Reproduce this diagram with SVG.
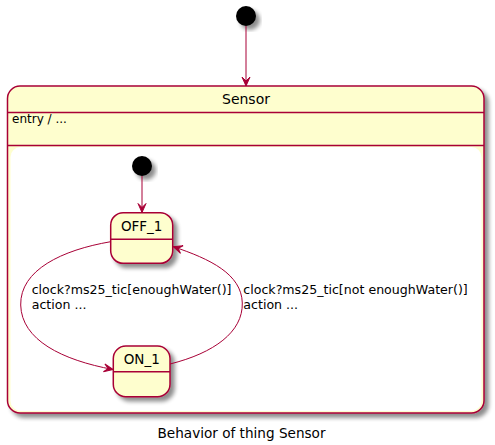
<svg xmlns="http://www.w3.org/2000/svg" width="495" height="445" viewBox="0 0 495 445">
<style>
.st{fill:#FEFECE;stroke:#A80036;stroke-width:1.5}
.ln{stroke:#A80036;stroke-width:1.5;fill:none}
.e{fill:none;stroke:#A80036;stroke-width:1}
.t{font-family:"DejaVu Sans",sans-serif;fill:#000}
.lb{font-size:12.6px}
</style>
<defs>
<filter id="sh" x="-20%" y="-20%" width="150%" height="150%">
<feGaussianBlur in="SourceAlpha" stdDeviation="2" result="b"/>
<feOffset dx="4" dy="4" in="b" result="o"/>
<feComponentTransfer in="o" result="o2"><feFuncA type="linear" slope="0.45"/></feComponentTransfer>
<feMerge><feMergeNode in="o2"/><feMergeNode in="SourceGraphic"/></feMerge>
</filter>
<marker id="ah" viewBox="-10 -5 11 10" refX="0" refY="0" markerWidth="11" markerHeight="10" markerUnits="userSpaceOnUse" orient="auto">
<path d="M0,0 L-9,-4 L-5,0 L-9,4 Z" fill="#A80036" stroke="#A80036" stroke-width="1"/>
</marker>
</defs>
<g id="init-top"><circle cx="246" cy="16" r="10" fill="#000" filter="url(#sh)"/></g>
<g id="sensor">
<rect class="st" x="7.5" y="86" width="476.5" height="327" rx="12.5" filter="url(#sh)"/>
<rect x="10.5" y="147" width="471" height="264" rx="10" fill="#FFFFFF"/>
<line class="ln" x1="7.5" y1="112.5" x2="484" y2="112.5"/>
<line class="ln" x1="7.5" y1="145.5" x2="484" y2="145.5"/>
<text class="t" x="246" y="104" font-size="14" text-anchor="middle">Sensor</text>
<text class="t" x="12" y="123" font-size="12">entry / ...</text>
</g>
<g id="init-inner"><circle cx="142" cy="166" r="10" fill="#000" filter="url(#sh)"/></g>
<g id="off1">
<rect class="st" x="110.7" y="212.7" width="62" height="50.6" rx="12.5" filter="url(#sh)"/>
<line class="ln" x1="110.7" y1="239.3" x2="172.7" y2="239.3"/>
<text class="t" x="141.7" y="231" font-size="13.5" text-anchor="middle">OFF_1</text>
</g>
<g id="on1">
<rect class="st" x="113.3" y="346" width="56.7" height="50.7" rx="12.5" filter="url(#sh)"/>
<line class="ln" x1="113.3" y1="371.7" x2="170" y2="371.7"/>
<text class="t" x="141.7" y="364" font-size="13.5" text-anchor="middle">ON_1</text>
</g>
<g id="connectors">
<path class="e" d="M246,26 L246,86" marker-end="url(#ah)"/>
<path class="e" d="M142,176 L142,212.5" marker-end="url(#ah)"/>
<path class="e" d="M110.7,241.7 C62,250 20,270 20.7,305 C21.5,340 62,360 113,369.5" marker-end="url(#ah)"/>
<path class="e" d="M170,364 C214,353 243,332 242.3,303 C241.6,274 210,259 173.3,246.7" marker-end="url(#ah)"/>
<text class="t lb" x="31.7" y="294">clock?ms25_tic[enoughWater()]</text>
<text class="t lb" x="31.7" y="308.7">action ...</text>
<text class="t lb" x="243.3" y="294">clock?ms25_tic[not enoughWater()]</text>
<text class="t lb" x="243.3" y="308.7">action ...</text>
</g>
<text class="t" x="241.5" y="438" font-size="13.6" text-anchor="middle">Behavior of thing Sensor</text>
</svg>
